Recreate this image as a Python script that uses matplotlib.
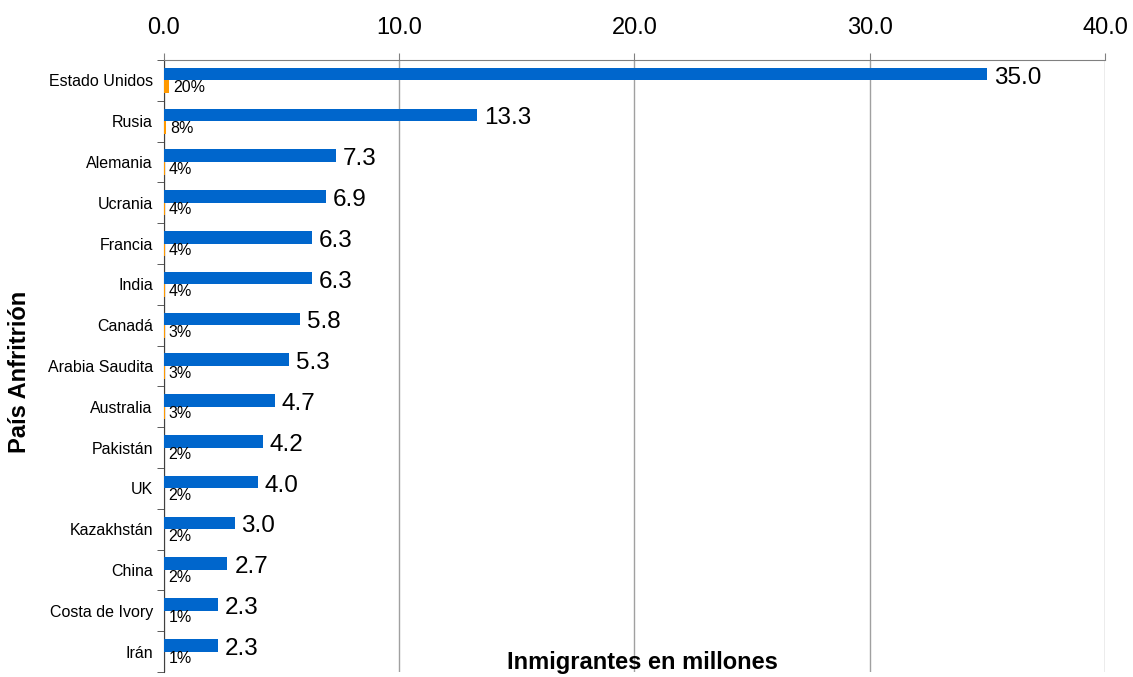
import numpy as np
import matplotlib.pyplot as plt

paises = ["Estado Unidos", "Rusia", "Alemania", "Ucrania", "Francia", "India",
          "Canadá", "Arabia Saudita", "Australia", "Pakistán", "UK",
          "Kazakhstán", "China", "Costa de Ivory", "Irán"]
millones = [35.0, 13.3, 7.3, 6.9, 6.3, 6.3, 5.8, 5.3, 4.7, 4.2, 4.0, 3.0, 2.7, 2.3, 2.3]
porcentaje = [20, 8, 4, 4, 4, 4, 3, 3, 3, 2, 2, 2, 2, 1, 1]

azul = "#0066CC"
naranja = "#FF9900"
fuente = "Liberation Sans"

fig = plt.figure(figsize=(11.33, 6.77), dpi=100)
ax = fig.add_axes([0.1447, 0.0074, 0.8306, 0.904])

y = np.arange(len(paises))
h = 0.31
ax.barh(y - h / 2, millones, height=h, color=azul, zorder=3)
ax.barh(y + h / 2, np.array(porcentaje) / 100, height=h, color=naranja, zorder=3)

for yi, v, p in zip(y, millones, porcentaje):
    ax.annotate(f"{v:.1f}", (v, yi - h / 2), xytext=(5, -2.5), textcoords="offset points",
                va="center", ha="left", fontsize=17.5, family=fuente)
    ax.annotate(f"{p}%", (p / 100, yi + h / 2), xytext=(3, -0.5), textcoords="offset points",
                va="center", ha="left", fontsize=11.5, family=fuente)

ax.set_xlim(0, 40)
ax.set_ylim(len(paises) - 0.5, -0.5)
ax.xaxis.tick_top()
ax.set_xticks(np.arange(0, 41, 10))
ax.set_xticklabels([f"{t:.1f}" for t in np.arange(0, 41, 10)], fontsize=17, family=fuente)
ax.tick_params(axis="x", length=5, color="#808080", pad=10)
ax.grid(axis="x", color="#a0a0a0", linewidth=1, zorder=0)

ax.set_yticks(y)
ax.set_yticklabels(paises, fontsize=11.5, family=fuente)
ax.tick_params(axis="y", which="major", length=0, pad=8)
ax.set_yticks(np.arange(-0.5, len(paises)), minor=True)
ax.tick_params(axis="y", which="minor", length=5, color="#404040")

for s in ["right", "bottom"]:
    ax.spines[s].set_visible(False)
ax.spines["top"].set_color("#808080")
ax.spines["left"].set_color("#404040")

ax.text(0.508, 0.016, "Inmigrantes en millones", transform=ax.transAxes, ha="center",
        va="center", fontsize=17, fontweight="bold", family=fuente)
fig.text(0.017, 0.45, "País Anfritrión", rotation=90, ha="center", va="center",
         fontsize=17, fontweight="bold", family=fuente)

fig.savefig("out.png", dpi=100)
